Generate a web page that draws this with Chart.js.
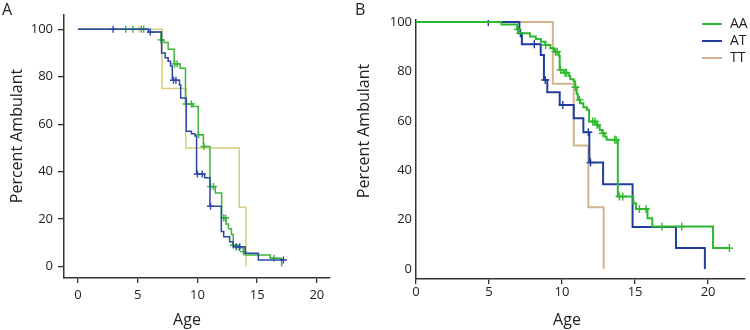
<!DOCTYPE html>
<html>
<head>
<meta charset="utf-8">
<script src="https://cdn.jsdelivr.net/npm/chart.js@4"></script>
<style>
  html, body { margin: 0; padding: 0; background: #fff; }
  #wrap { position: relative; width: 750px; height: 330px; overflow: hidden; }
  canvas { position: absolute; top: 0; }
  .panel { position: absolute; top: 0; font: 16px "Open Sans", sans-serif; color: #222; line-height: 18px; }
</style>
</head>
<body>
<div id="wrap">
  <canvas id="chartA" style="left:0" width="345" height="330"></canvas>
  <canvas id="chartB" style="left:345px" width="405" height="330"></canvas>
  <div class="panel" style="left:2px">A</div>
  <div class="panel" style="left:355px">B</div>
</div>
<script>
// 공통 눈금
const xTicks = [0, 5, 10, 15, 20];
const yTicks = [0, 20, 40, 60, 80, 100];
const groups = ["AA", "AT", "TT"];

// Panel A - Kaplan-Meier 계단 (나이, 보행 비율)
const aAgeAA = [0, 5.9, 6.95, 7.2, 7.55, 8.05, 8.55, 9.0, 9.6, 10.07, 10.5, 11.05, 11.5, 12.03, 12.4, 12.6, 12.85, 13.0, 13.5, 13.85, 14.0, 16.1, 17.05];
const aPctAA = [100, 98.8, 95.5, 94.4, 91.6, 85.4, 83.6, 68.5, 67.4, 55.5, 50.6, 33.7, 31, 20.5, 18, 16, 13.5, 9, 8, 6.3, 4.9, 3.5, 0];
const aCensAA = [4.0, 4.6, 5.3, 5.5, 6.95, 8.1, 8.3, 9.05, 9.5, 10.1, 10.55, 11.1, 11.35, 12.2, 12.35, 13.0, 13.5, 13.85, 16.4];

const aAgeAT = [0, 5.9, 7.0, 7.3, 7.55, 7.75, 7.9, 8.5, 8.6, 9.07, 9.5, 9.8, 9.93, 10.6, 11.05, 12.0, 12.2, 12.7, 13.0, 14.0, 15.1, 17.2];
const aPctAT = [100, 98.8, 90, 88, 86.5, 84.5, 78.5, 76.5, 71, 57, 56, 55, 39, 37.4, 25.4, 14.8, 12.6, 10.5, 8.4, 5.6, 2.8, 2.8];
const aCensAT = [2.94, 6.05, 8.0, 8.2, 10.0, 10.4, 11.1, 13.25, 13.55, 17.2];

const aAgeTT = [0, 7.05, 9.03, 13.5, 14.07];
const aPctTT = [100, 75, 50, 25, 0];
const aCensTT = [5.1];

// Panel B
const bAgeAA = [0, 5.85, 6.92, 7.05, 7.8, 8.2, 8.55, 8.85, 9.2, 9.45, 9.78, 9.84, 10.1, 10.45, 10.56, 10.8, 10.9, 11.0, 11.08, 11.24, 11.46, 11.7, 11.85, 12.36, 12.47, 12.58, 12.75, 12.92, 13.05, 13.82, 14.88, 15.06, 15.85, 16.18, 20.34, 21.46];
const bPctAA = [100, 99, 97, 95.4, 94.1, 93.1, 92, 90.7, 89.4, 88, 86.3, 80.6, 79.5, 78.2, 76.8, 75.9, 73.6, 70.9, 68.5, 67.1, 65.5, 64.5, 59.7, 58.4, 57.7, 56.3, 55, 53.6, 52.3, 29.4, 26.7, 24.3, 20.6, 17.2, 8.5, 8.5];
const bCensAA = [6.97, 8.88, 9.55, 9.66, 9.9, 10.2, 10.3, 10.92, 11.2, 12.1, 12.25, 12.4, 12.8, 13.6, 13.7, 13.93, 14.16, 15.3, 15.75, 16.85, 18.2, 21.46];

const bAgeAT = [0, 7.08, 7.25, 8.54, 8.76, 8.99, 9.84, 10.8, 11.46, 11.87, 12.81, 14.83, 17.8, 19.78];
const bPctAT = [100, 95.4, 91, 86.6, 76.5, 71.6, 66.4, 61, 55.4, 43.1, 34.3, 17, 8.5, 0];
const bCensAT = [4.95, 7.15, 8.1, 8.85, 10.05, 11.8, 11.95];

const bAgeTT = [0, 9.37, 10.8, 11.8, 12.85];
const bPctTT = [100, 75, 50, 25, 0];
const bCensTT = [];

const FONT = '"Open Sans", sans-serif';

function survAt(ages, pct, t) {
  let s = pct[0];
  for (let i = 0; i < ages.length; i++) if (ages[i] <= t) s = pct[i];
  return s;
}

function series(label, ages, pct, cens, color, width, markR) {
  return [
    {
      label: label,
      data: ages.map((x, i) => ({ x: x, y: pct[i] })),
      stepped: "before",
      borderColor: color,
      borderWidth: width,
      pointRadius: 0,
      fill: false,
    },
    {
      label: label + " censored",
      censor: true,
      data: cens.map((t) => ({ x: t, y: survAt(ages, pct, t) })),
      showLine: false,
      pointStyle: "cross",
      pointRadius: markR,
      pointBorderWidth: 1.4,
      borderColor: color,
      backgroundColor: color,
    },
  ];
}

// 축 제목 (Age, Percent Ambulant)
const axisTitlePlugin = {
  id: "axisTitles",
  afterDraw(chart, args, opts) {
    const ctx = chart.ctx;
    ctx.save();
    ctx.font = "16px " + FONT;
    ctx.fillStyle = "#222";
    ctx.textAlign = "center";
    ctx.textBaseline = "middle";
    ctx.fillText("Age", opts.xTitleX, opts.xTitleY);
    ctx.translate(opts.yTitleX, opts.yTitleY);
    ctx.rotate(-Math.PI / 2);
    ctx.fillText("Percent Ambulant", 0, 0);
    ctx.restore();
  },
};

// 범례
const keyPlugin = {
  id: "key",
  afterDraw(chart, args, opts) {
    if (!opts.display) return;
    const ctx = chart.ctx;
    ctx.save();
    ctx.font = "14px " + FONT;
    ctx.textBaseline = "middle";
    chart.data.datasets
      .filter((ds) => !ds.censor)
      .forEach((ds, i) => {
        const y = opts.y + i * opts.gap;
        ctx.strokeStyle = ds.borderColor;
        ctx.lineWidth = 2;
        ctx.beginPath();
        ctx.moveTo(opts.x, y);
        ctx.lineTo(opts.x + 20, y);
        ctx.stroke();
        ctx.fillStyle = "#222";
        ctx.fillText(ds.label, opts.x + 28, y + 0.5);
      });
    ctx.restore();
  },
};

function makeChart(id, cfg) {
  const ctx = document.getElementById(id).getContext("2d");
  return new Chart(ctx, {
    type: "line",
    data: { datasets: cfg.datasets },
    plugins: [axisTitlePlugin, keyPlugin],
    options: {
      responsive: false,
      animation: false,
      events: [],
      layout: { padding: cfg.padding },
      scales: {
        x: {
          type: "linear",
          min: cfg.xMin,
          max: cfg.xMax,
          afterBuildTicks: (axis) => { axis.ticks = xTicks.map((v) => ({ value: v })); },
          afterFit: (scale) => { scale.height = cfg.xHeight; },
          border: { display: true, color: "#333", width: 1.5 },
          grid: { drawOnChartArea: false, drawTicks: true, tickLength: 5, color: "#333", lineWidth: 1.3 },
          ticks: { font: { family: FONT, size: 13 }, color: "#222", padding: cfg.xPad, maxRotation: 0 },
        },
        y: {
          type: "linear",
          min: cfg.yMin,
          max: cfg.yMax,
          afterBuildTicks: (axis) => { axis.ticks = yTicks.map((v) => ({ value: v })); },
          afterFit: (scale) => { scale.width = cfg.yWidth; },
          border: { display: true, color: "#333", width: 1.5 },
          grid: { drawOnChartArea: false, drawTicks: cfg.yTickMarks, tickLength: 6, color: "#333", lineWidth: 1.3 },
          ticks: { font: { family: FONT, size: 13 }, color: "#222", padding: cfg.yPad },
        },
      },
      plugins: {
        legend: { display: false },
        tooltip: { enabled: false },
        axisTitles: cfg.titles,
        key: cfg.key,
      },
    },
  });
}

const aColors = ["#3cb43c", "#2e47a8", "#d8cd7c"];
const bColors = ["#2db82d", "#1f3c9e", "#d2b48c"];

makeChart("chartA", {
  datasets: [
    ...series(groups[1], aAgeAT, aPctAT, aCensAT, aColors[1], 1.5, 3.5),
    ...series(groups[0], aAgeAA, aPctAA, aCensAA, aColors[0], 1.5, 3.5),
    ...series(groups[2], aAgeTT, aPctTT, aCensTT, aColors[2], 1.5, 3.5),
  ],
  padding: { left: 0, right: 15, top: 15, bottom: 0 },
  xMin: -1.17, xMax: 21.1, yMin: -4.8, yMax: 106,
  xHeight: 52, yWidth: 64, xPad: 4, yPad: 5, yTickMarks: true,
  titles: { xTitleX: 187, xTitleY: 320, yTitleX: 17, yTitleY: 136 },
  key: { display: false },
});

makeChart("chartB", {
  datasets: [
    ...series(groups[0], bAgeAA, bPctAA, bCensAA, bColors[0], 2, 4),
    ...series(groups[1], bAgeAT, bPctAT, bCensAT, bColors[1], 2, 4),
    ...series(groups[2], bAgeTT, bPctTT, bCensTT, bColors[2], 2, 4),
  ],
  padding: { left: 0, right: 0, top: 20, bottom: 0 },
  xMin: 0, xMax: 22.5, yMin: -4, yMax: 100.8,
  xHeight: 51, yWidth: 71, xPad: 0, yPad: 4, yTickMarks: false,
  titles: { xTitleX: 222, xTitleY: 320, yTitleX: 19, yTitleY: 131 },
  key: { display: true, x: 357, y: 24, gap: 17 },
});
</script>
</body>
</html>
